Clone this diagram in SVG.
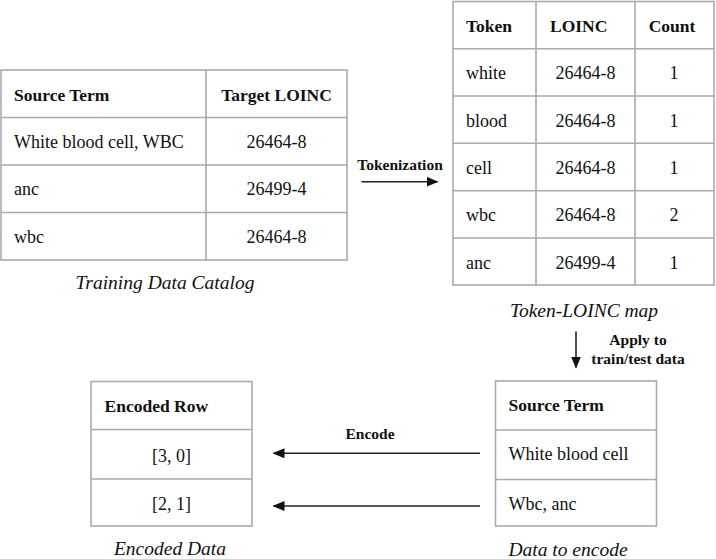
<svg xmlns="http://www.w3.org/2000/svg" width="716" height="559" viewBox="0 0 716 559">
<defs>
<style>
text{font-family:"Liberation Serif","Times New Roman",serif;fill:#111;}
.t{font-size:18px;}
.b{font-size:17.5px;font-weight:bold;}
.lb{font-size:15.5px;font-weight:bold;}
.cap{font-size:19.5px;font-style:italic;}
.m{text-anchor:middle;}
.tbl{fill:#fff;stroke:#ababab;stroke-width:1.6;}
.grid{stroke:#ababab;stroke-width:1.6;fill:none;}
.arr{stroke:#222;stroke-width:1.6;fill:none;marker-end:url(#ah);}
</style>
<marker id="ah" viewBox="0 0 12 10" refX="11" refY="5" markerWidth="12" markerHeight="10" markerUnits="userSpaceOnUse" orient="auto">
<path d="M0,0 L12,5 L0,10 Z" fill="#111"/>
</marker>
</defs>
<rect width="716" height="559" fill="#fff"/>

<g id="training-data-catalog">
<rect class="tbl" x="1" y="70" width="346" height="190"/>
<path class="grid" d="M206,70V260M1,117.5H347M1,165H347M1,212.5H347"/>
<text class="b" x="14" y="101">Source Term</text>
<text class="b m" x="276.5" y="101">Target LOINC</text>
<text class="t" x="14" y="148">White blood cell, WBC</text>
<text class="t m" x="276.5" y="148">26464-8</text>
<text class="t" x="14" y="195">anc</text>
<text class="t m" x="276.5" y="195">26499-4</text>
<text class="t" x="14" y="243">wbc</text>
<text class="t m" x="276.5" y="243">26464-8</text>
<text class="cap m" x="165" y="289">Training Data Catalog</text>
</g>

<g id="token-loinc-map">
<rect class="tbl" x="453" y="1.5" width="261" height="283.5"/>
<path class="grid" d="M536,1.5V285M635,1.5V285M453,48.8H714M453,96H714M453,143.3H714M453,190.7H714M453,238H714"/>
<text class="b" x="466" y="32">Token</text>
<text class="b" x="550" y="32">LOINC</text>
<text class="b m" x="672" y="32">Count</text>
<text class="t" x="466" y="79">white</text>
<text class="t m" x="585.5" y="79">26464-8</text>
<text class="t m" x="674" y="79">1</text>
<text class="t" x="466" y="126.5">blood</text>
<text class="t m" x="585.5" y="126.5">26464-8</text>
<text class="t m" x="674" y="126.5">1</text>
<text class="t" x="466" y="173.5">cell</text>
<text class="t m" x="585.5" y="173.5">26464-8</text>
<text class="t m" x="674" y="173.5">1</text>
<text class="t" x="466" y="221">wbc</text>
<text class="t m" x="585.5" y="221">26464-8</text>
<text class="t m" x="674" y="221">2</text>
<text class="t" x="466" y="268.5">anc</text>
<text class="t m" x="585.5" y="268.5">26499-4</text>
<text class="t m" x="674" y="268.5">1</text>
<text class="cap m" x="584" y="316.5">Token-LOINC map</text>
</g>

<g id="data-to-encode">
<rect class="tbl" x="495.5" y="381" width="161" height="145"/>
<path class="grid" d="M495.5,430H656.5M495.5,479.5H656.5"/>
<text class="b" x="508.5" y="411">Source Term</text>
<text class="t" x="508.5" y="460">White blood cell</text>
<text class="t" x="508.5" y="510">Wbc, anc</text>
<text class="cap m" x="568" y="556">Data to encode</text>
</g>

<g id="encoded-data">
<rect class="tbl" x="91" y="381.5" width="161" height="144.5"/>
<path class="grid" d="M91,429.5H252M91,479H252"/>
<text class="b" x="104.5" y="411.5">Encoded Row</text>
<text class="t m" x="171.5" y="461.5">[3, 0]</text>
<text class="t m" x="171.5" y="510">[2, 1]</text>
<text class="cap m" x="170" y="555">Encoded Data</text>
</g>

<g id="connectors">
<path class="arr" d="M361.5,181.7H437.5"/>
<text class="lb m" x="400" y="170">Tokenization</text>
<path class="arr" d="M576,331.5V367.5"/>
<text class="lb m" x="638" y="345">Apply to</text>
<text class="lb m" x="638" y="363.5">train/test data</text>
<path class="arr" d="M480,453.3H273.5"/>
<text class="lb m" x="370" y="438.5">Encode</text>
<path class="arr" d="M480,506H273.5"/>
</g>
</svg>
